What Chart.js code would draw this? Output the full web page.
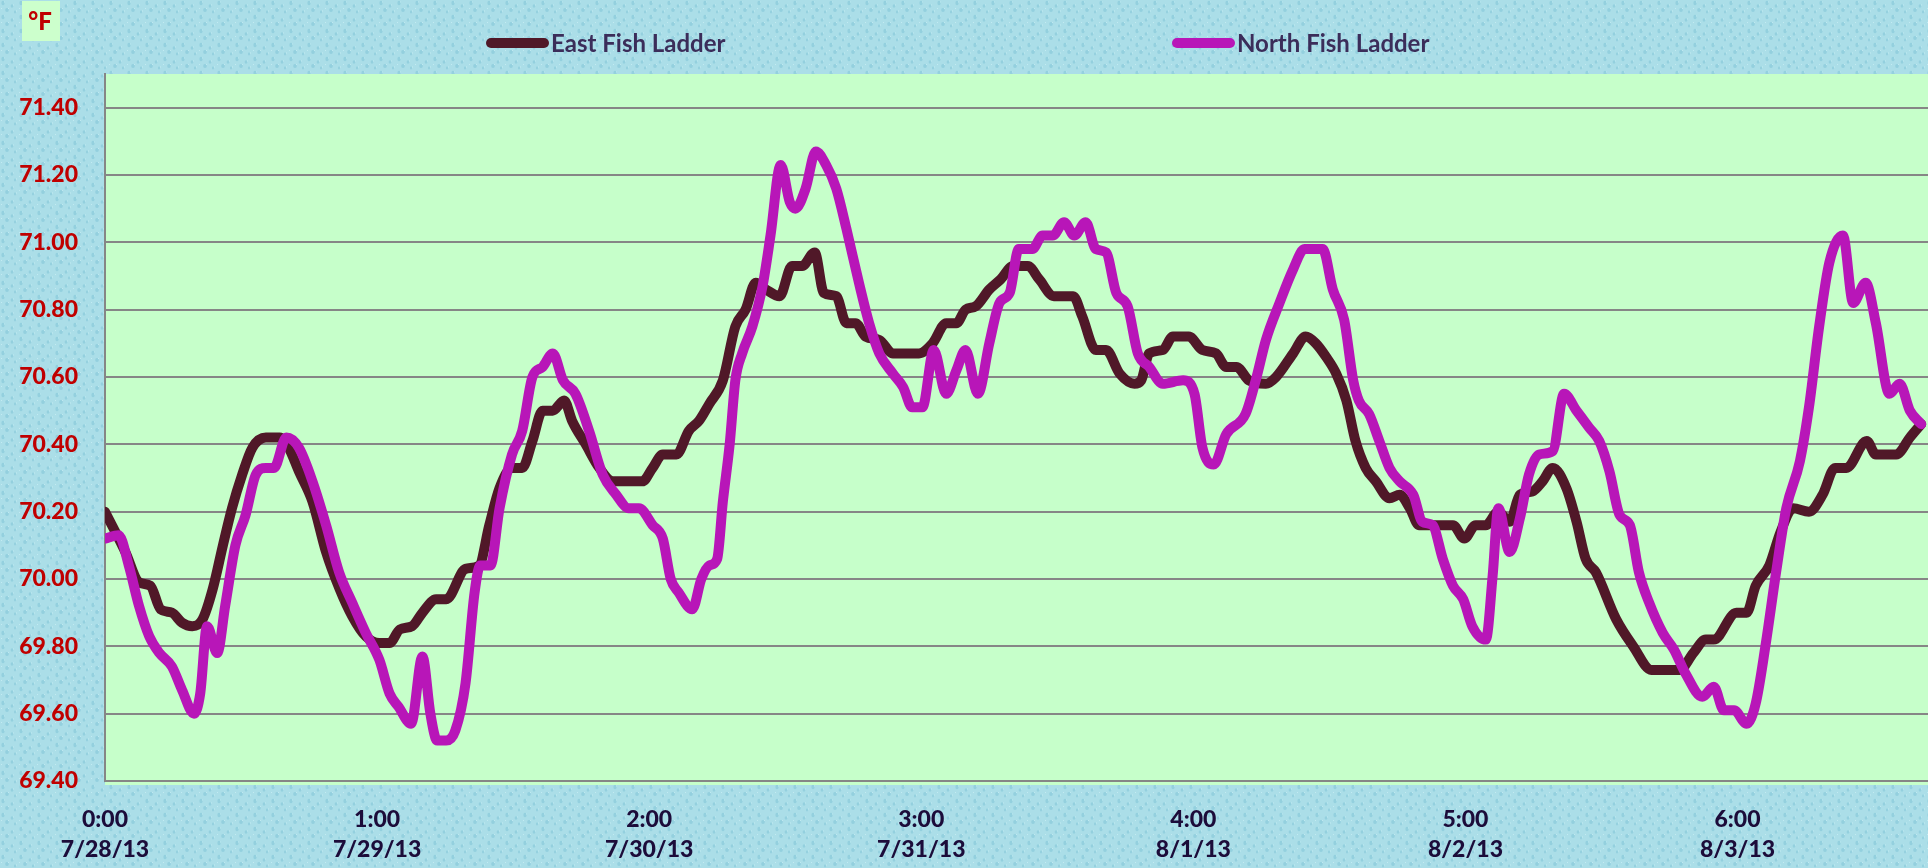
<!DOCTYPE html>
<html>
<head>
<meta charset="utf-8">
<script src="https://cdn.jsdelivr.net/npm/chart.js@4.4.1/dist/chart.umd.min.js"></script>
<style>
    html, body { margin: 0; padding: 0; background: #a9dde7; }
    #grafico { display: block; }
</style>
</head>
<body>
<canvas id="grafico" width="1928" height="868"></canvas>
<script>
// Hours since 7/28/13 0:00 and water temperature (°F)
const eastHours = [0, 1.8, 3.0, 4.0, 4.9, 5.9, 6.8, 7.7, 8.6, 9.5, 10.4, 11.2, 12.1, 13.0, 14.2, 15.4, 16.2, 17.1, 18.3, 19.5,
    20.7, 21.8, 23.0, 24.2, 25.1, 26.0, 27.1, 28.0, 29.2, 30.1, 31.8, 33.0, 33.9, 34.8, 35.9, 36.8, 37.7, 38.6, 39.5, 40.5,
    41.2, 42.4, 43.6, 44.8, 46.5, 47.4, 48.3, 49.2, 50.4, 51.5, 52.4, 53.3, 54.5, 55.6, 56.5, 57.4, 58.3, 59.5, 60.6, 61.5,
    62.6, 63.4, 64.5, 65.4, 66.2, 67.1, 68.3, 69.5, 71.8, 73.0, 74.2, 75.1, 75.9, 76.8, 78.0, 79.0, 80.1, 81.4, 82.4, 83.7,
    85.4, 86.2, 87.4, 88.3, 89.5, 90.8, 91.4, 92.1, 93.3, 94.2, 95.6, 96.8, 98.0, 98.9, 99.8, 100.9, 102.4, 103.3, 104.8, 105.9,
    106.8, 107.7, 108.6, 109.5, 110.3, 111.2, 112.1, 113.3, 114.2, 115.1, 115.9, 117.1, 118.9, 119.9, 120.9, 121.8, 122.9, 123.9, 124.8, 125.9,
    126.8, 127.7, 128.9, 129.8, 130.6, 131.5, 133.3, 134.8, 136.4, 138.9, 140.1, 141.2, 141.9, 143.9, 144.8, 145.6, 146.8, 147.8, 148.9, 150.3,
    151.5, 152.6, 153.6, 155.4, 156.2, 158.0, 159.2, 160.2];
const eastTemps = [70.20, 70.08, 69.99, 69.98, 69.91, 69.90, 69.87, 69.86, 69.88, 69.97, 70.10, 70.21, 70.31, 70.39, 70.42, 70.42, 70.39, 70.32, 70.23, 70.08,
    69.97, 69.89, 69.83, 69.81, 69.81, 69.85, 69.86, 69.90, 69.94, 69.94, 70.03, 70.04, 70.16, 70.27, 70.33, 70.33, 70.41, 70.50, 70.50, 70.53,
    70.47, 70.40, 70.33, 70.29, 70.29, 70.29, 70.33, 70.37, 70.37, 70.44, 70.47, 70.52, 70.59, 70.75, 70.80, 70.88, 70.86, 70.84, 70.93, 70.93,
    70.97, 70.85, 70.84, 70.76, 70.76, 70.72, 70.71, 70.67, 70.67, 70.70, 70.76, 70.76, 70.80, 70.81, 70.86, 70.89, 70.93, 70.93, 70.89, 70.84,
    70.84, 70.78, 70.68, 70.68, 70.61, 70.58, 70.59, 70.67, 70.68, 70.72, 70.72, 70.68, 70.67, 70.63, 70.63, 70.59, 70.58, 70.60, 70.67, 70.72,
    70.70, 70.66, 70.61, 70.53, 70.41, 70.33, 70.29, 70.24, 70.25, 70.21, 70.16, 70.16, 70.16, 70.12, 70.16, 70.16, 70.20, 70.17, 70.25, 70.26,
    70.29, 70.33, 70.27, 70.17, 70.06, 70.02, 69.88, 69.80, 69.73, 69.73, 69.78, 69.82, 69.82, 69.90, 69.90, 69.98, 70.04, 70.14, 70.21, 70.20,
    70.25, 70.33, 70.33, 70.41, 70.37, 70.37, 70.42, 70.46];

const northHours = [0, 1.2, 2.1, 3.0, 3.9, 4.8, 5.9, 6.8, 7.85, 8.4, 9.0, 9.9, 10.6, 11.5, 12.4, 13.3, 14.2, 14.9, 16.0, 17.1,
    18.3, 19.5, 20.65, 21.8, 23.0, 24.2, 25.1, 25.9, 27.0, 28.0, 28.7, 29.3, 30.1, 30.9, 31.8, 32.6, 33.1, 34.0, 34.8, 35.9,
    36.8, 37.7, 38.6, 39.5, 40.4, 41.5, 42.7, 43.9, 45.1, 46.2, 47.1, 48.3, 49.2, 49.9, 50.6, 51.8, 52.6, 53.3, 54.0, 54.5,
    55.1, 55.6, 56.2, 57.1, 58.0, 58.7, 59.6, 60.4, 60.9, 61.8, 62.7, 63.6, 64.5, 65.4, 66.5, 67.4, 68.3, 69.5, 70.4, 71.2,
    72.1, 73.1, 74.2, 75.1, 75.9, 77.0, 78.0, 78.9, 79.8, 80.6, 81.8, 82.7, 83.6, 84.6, 85.5, 86.5, 87.4, 88.3, 89.2, 90.2,
    91.1, 92.1, 93.3, 95.1, 96.1, 96.8, 97.8, 98.9, 100.6, 101.5, 102.4, 103.6, 104.8, 105.8, 106.7, 107.4, 108.3, 109.3, 110.1, 110.6,
    111.5, 112.4, 113.3, 114.2, 115.4, 116.2, 117.1, 118.0, 118.9, 119.8, 120.6, 121.8, 122.4, 122.9, 123.9, 124.8, 125.6, 126.5, 127.7, 128.7,
    129.8, 130.9, 131.8, 132.7, 133.6, 134.5, 135.3, 136.2, 137.4, 138.4, 139.4, 140.9, 141.9, 142.8, 143.7, 144.8, 145.6, 146.5, 147.4, 148.3,
    149.5, 150.3, 151.2, 152.1, 153.3, 154.2, 155.3, 156.2, 157.4, 158.3, 159.2, 160.2];
const northTemps = [70.12, 70.13, 70.04, 69.92, 69.83, 69.78, 69.74, 69.67, 69.60, 69.66, 69.86, 69.78, 69.92, 70.10, 70.19, 70.31, 70.33, 70.33, 70.42, 70.39,
    70.29, 70.16, 70.02, 69.93, 69.84, 69.76, 69.66, 69.62, 69.57, 69.77, 69.60, 69.52, 69.52, 69.55, 69.69, 69.96, 70.04, 70.04, 70.21, 70.37,
    70.44, 70.60, 70.63, 70.67, 70.59, 70.55, 70.44, 70.31, 70.25, 70.21, 70.21, 70.16, 70.12, 70.00, 69.96, 69.91, 70.00, 70.04, 70.06, 70.23,
    70.40, 70.59, 70.67, 70.75, 70.87, 71.02, 71.23, 71.12, 71.10, 71.16, 71.27, 71.23, 71.16, 71.04, 70.88, 70.76, 70.67, 70.61, 70.57, 70.51,
    70.51, 70.68, 70.55, 70.62, 70.68, 70.55, 70.70, 70.82, 70.85, 70.98, 70.98, 71.02, 71.02, 71.06, 71.02, 71.06, 70.98, 70.97, 70.85, 70.81,
    70.67, 70.63, 70.58, 70.59, 70.55, 70.39, 70.34, 70.43, 70.49, 70.59, 70.71, 70.82, 70.92, 70.98, 70.98, 70.98, 70.86, 70.77, 70.59, 70.53,
    70.49, 70.41, 70.33, 70.29, 70.25, 70.17, 70.16, 70.06, 69.98, 69.94, 69.86, 69.82, 70.01, 70.21, 70.08, 70.18, 70.31, 70.37, 70.38, 70.55,
    70.50, 70.45, 70.41, 70.32, 70.19, 70.16, 70.02, 69.93, 69.84, 69.79, 69.72, 69.65, 69.68, 69.61, 69.61, 69.57, 69.63, 69.81, 70.02, 70.21,
    70.35, 70.51, 70.75, 70.94, 71.02, 70.82, 70.88, 70.76, 70.55, 70.58, 70.50, 70.46];

const xTickHours = [0, 24, 48, 72, 96, 120, 144];
const xTickTimes = ['0:00', '1:00', '2:00', '3:00', '4:00', '5:00', '6:00'];
const xTickDates = ['7/28/13', '7/29/13', '7/30/13', '7/31/13', '8/1/13', '8/2/13', '8/3/13'];
const yTicks = [69.4, 69.6, 69.8, 70.0, 70.2, 70.4, 70.6, 70.8, 71.0, 71.2, 71.4];

const FONTE = 'Lato, "Open Sans", sans-serif';

// Textura de gotas para o fundo azul (ladrilho fixo, sem aleatório)
function criarTextura(ctx) {
    const tile = document.createElement('canvas');
    tile.width = 18;
    tile.height = 14;
    const t = tile.getContext('2d');
    t.fillStyle = '#abdee8';
    t.fillRect(0, 0, 18, 14);
    t.fillStyle = 'rgba(120, 190, 210, 0.45)';
    [[3, 3, 1.6, 2.2], [12, 6, 1.3, 1.8], [7, 10, 1.8, 2.0], [15, 12, 1.0, 1.4]].forEach(([x, y, rx, ry]) => {
        t.beginPath();
        t.ellipse(x, y, rx, ry, 0, 0, Math.PI * 2);
        t.fill();
    });
    t.fillStyle = 'rgba(215, 245, 250, 0.55)';
    [[4, 1.5], [13, 4.5], [8, 8], [16, 10.5], [1, 8]].forEach(([x, y]) => {
        t.fillRect(x, y, 1, 1);
    });
    return ctx.createPattern(tile, 'repeat');
}

// Fundo azul da página e área do gráfico verde
const fundoPlugin = {
    id: 'fundo',
    beforeDraw(chart) {
        const { ctx, chartArea: a, width, height } = chart;
        ctx.save();
        ctx.fillStyle = criarTextura(ctx);
        ctx.fillRect(0, 0, width, height);
        ctx.fillStyle = '#c6ffca';
        ctx.fillRect(a.left, a.top, a.right - a.left, a.bottom - a.top + 4);
        ctx.restore();
    }
};

// Legenda e rótulo de unidade desenhados à mão
const legendaPlugin = {
    id: 'legenda',
    afterDraw(chart, args, opts) {
        const ctx = chart.ctx;
        ctx.save();

        ctx.fillStyle = '#ccffcc';
        ctx.fillRect(22, 1, 38, 40);
        ctx.fillStyle = '#c00000';
        ctx.font = '900 24px ' + FONTE;
        ctx.textAlign = 'center';
        ctx.textBaseline = 'middle';
        ctx.fillText('°F', 40, 22);

        ctx.textAlign = 'left';
        ctx.font = 'bold 24px ' + FONTE;
        chart.data.datasets.forEach((ds, i) => {
            const x = opts.itemX[i];
            ctx.strokeStyle = ds.borderColor;
            ctx.lineWidth = 10;
            ctx.lineCap = 'round';
            ctx.beginPath();
            ctx.moveTo(x + 5, opts.y);
            ctx.lineTo(x + 58, opts.y);
            ctx.stroke();
            ctx.fillStyle = '#3b2d5a';
            ctx.fillText(ds.label, x + 65, opts.y + 1);
        });
        ctx.restore();
    }
};

function serie(horas, temps) {
    return horas.map((h, i) => ({ x: h, y: temps[i] }));
}

const grafico = new Chart(document.getElementById('grafico'), {
    type: 'line',
    data: {
        datasets: [{
            label: 'East Fish Ladder',
            data: serie(eastHours, eastTemps),
            borderColor: '#501828',
            order: 1
        }, {
            label: 'North Fish Ladder',
            data: serie(northHours, northTemps),
            borderColor: '#b816b8',
            order: 0
        }]
    },
    options: {
        responsive: false,
        animation: false,
        devicePixelRatio: 1,
        layout: { padding: { top: 74, left: 0, right: 0, bottom: 0 } },
        elements: {
            point: { radius: 0 },
            line: {
                borderWidth: 10,
                borderCapStyle: 'round',
                borderJoinStyle: 'round',
                cubicInterpolationMode: 'monotone'
            }
        },
        plugins: {
            legend: { display: false },
            tooltip: { enabled: false },
            legenda: { itemX: [486, 1172], y: 43 }
        },
        scales: {
            x: {
                type: 'linear',
                min: 0,
                max: 160.8,
                afterBuildTicks: axis => { axis.ticks = xTickHours.map(v => ({ value: v })); },
                afterFit: axis => { axis.height = 87; },
                grid: { display: false, drawTicks: false },
                border: { display: true, color: '#868686', width: 2 },
                ticks: {
                    autoSkip: false,
                    maxRotation: 0,
                    padding: 24,
                    color: '#1c0c3a',
                    font: { family: FONTE, size: 23, weight: '900', lineHeight: 1.3 },
                    callback: (value, index) => [xTickTimes[index], xTickDates[index]]
                }
            },
            y: {
                min: 69.4,
                max: 71.5,
                afterBuildTicks: axis => { axis.ticks = yTicks.map(v => ({ value: v })); },
                afterFit: axis => { axis.width = 105; },
                grid: { color: '#868686', lineWidth: 2, drawTicks: false },
                border: { display: true, color: '#868686', width: 2 },
                ticks: {
                    padding: 27,
                    color: '#c00000',
                    font: { family: FONTE, size: 23, weight: '900' },
                    callback: value => value.toFixed(2)
                }
            }
        }
    },
    plugins: [fundoPlugin, legendaPlugin]
});
</script>
</body>
</html>
